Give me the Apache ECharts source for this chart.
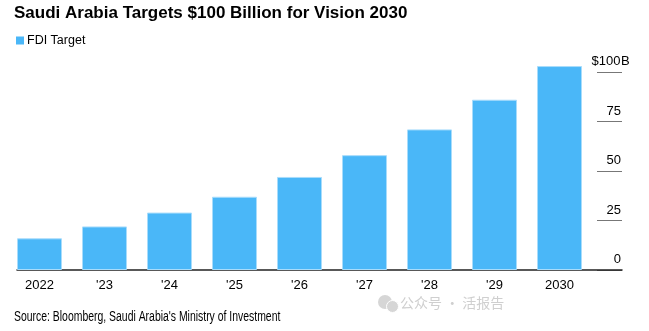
<!DOCTYPE html>
<html>
<head>
<meta charset="utf-8">
<script src="https://cdn.jsdelivr.net/npm/echarts@6/dist/echarts.min.js"></script>
<style>
  html, body { margin: 0; padding: 0; background: #fff; }
  #chart { width: 649px; height: 331px; }
</style>
</head>
<body>
<div id="chart"></div>
<script>
// FDI target path, billions of US dollars
const years = ['2022', "'23", "'24", "'25", "'26", "'27", "'28", "'29", '2030'];
const fdiTarget = [16, 22, 29, 37, 47, 58, 71, 86, 103];
const yTicks = [0, 25, 50, 75, 100];

const FONT = '"Liberation Sans", Arial, Helvetica, sans-serif';
const BAR = '#4ab7f8';
const chart = echarts.init(document.getElementById('chart'), null, { renderer: 'canvas' });

chart.setOption({
  animation: false,
  backgroundColor: '#fff',
  textStyle: { fontFamily: FONT },
  title: [
    {
      text: 'Saudi Arabia Targets $100 Billion for Vision 2030',
      left: 9, top: 0,
      textStyle: { fontFamily: FONT, fontSize: 17, fontWeight: 'bold', color: '#000' }
    },
    {
      text: '公众号 · 活报告',
      left: 395, top: 291,
      textStyle: { fontFamily: '"Noto Sans CJK SC", sans-serif', fontSize: 14, fontWeight: 'normal', color: '#cfcfcf' }
    }
  ],
  graphic: [
    // source line, set in a condensed width
    {
      type: 'text', x: 14, y: 310, scaleX: 0.745, originX: 0,
      style: {
        text: "Source: Bloomberg, Saudi Arabia's Ministry of Investment",
        font: '14px ' + FONT, fill: '#000', verticalAlign: 'top'
      }
    },
    // small chat-bubble badge beside the account name
    { type: 'circle', left: 378, top: 295, shape: { r: 7 }, style: { fill: '#d6d6d6' } },
    { type: 'circle', left: 386, top: 300, shape: { r: 6 }, style: { fill: '#d6d6d6', stroke: '#fff', lineWidth: 1 } }
  ],
  legend: {
    left: 11, top: 29,
    icon: 'rect', itemWidth: 8, itemHeight: 8, itemGap: 10,
    itemStyle: { borderWidth: 0, color: BAR },
    textStyle: { fontFamily: FONT, fontSize: 12.5, color: '#000', padding: [0, 0, 0, -2] },
    data: ['FDI Target']
  },
  grid: [
    { left: 7, right: 57, top: 72, bottom: 61 },
    { left: 17, right: 27, top: 72, bottom: 61 },
    { left: 597, right: 27, top: 72, bottom: 61 }
  ],
  xAxis: [
    {
      type: 'category', gridIndex: 0, data: years,
      axisLine: { show: false }, axisTick: { show: false },
      axisLabel: { color: '#000', fontSize: 13, fontFamily: FONT, margin: 9, interval: 0 }
    },
    {
      type: 'value', gridIndex: 1, min: 0, max: 1,
      splitLine: { show: false }, axisTick: { show: false }, axisLabel: { show: false },
      axisLine: { show: true, lineStyle: { color: '#222', width: 1.5 } }
    },
    { type: 'value', gridIndex: 2, min: 0, max: 1, show: false }
  ],
  yAxis: [
    { type: 'value', gridIndex: 0, min: 0, max: 100, show: false },
    { type: 'value', gridIndex: 1, min: 0, max: 100, show: false },
    {
      type: 'value', gridIndex: 2, position: 'right', min: 0, max: 100, interval: 25,
      splitLine: { show: true, lineStyle: { color: '#777', width: 1 } },
      axisLine: { show: false },
      axisTick: { show: false },
      axisLabel: {
        inside: true, margin: 31, align: 'left', color: '#000', fontSize: 13, fontFamily: FONT,
        verticalAlign: 'bottom', padding: [0, 0, 4, 0],
        // numbers sit right-aligned over the tick; the unit hangs past it
        formatter: v => (v === yTicks[yTicks.length - 1] ? '{n|$' + v + '}{u|B}' : '{n|' + v + '}'),
        rich: {
          n: { fontSize: 13, fontFamily: FONT, color: '#000', width: 30, align: 'right' },
          u: { fontSize: 13, fontFamily: FONT, color: '#000', align: 'left' }
        }
      }
    }
  ],
  series: [
    {
      name: 'FDI Target', type: 'bar', xAxisIndex: 0, yAxisIndex: 0,
      data: fdiTarget, barWidth: 45, clip: false,
      itemStyle: { color: BAR, borderColor: '#a8dcfb', borderWidth: 1 }
    }
  ]
});
</script>
</body>
</html>
